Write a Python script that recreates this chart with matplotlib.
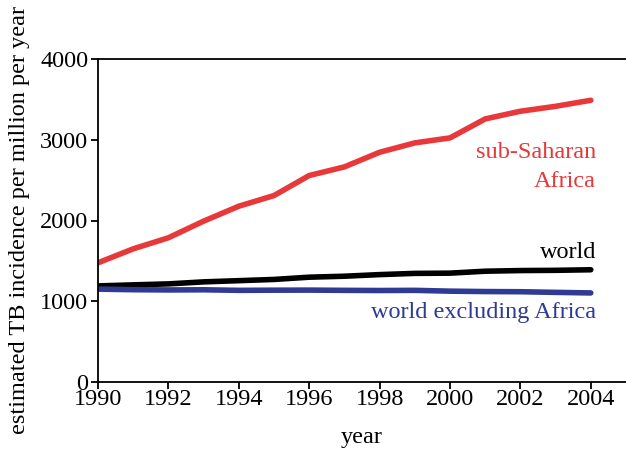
import matplotlib
matplotlib.use("Agg")
import matplotlib.pyplot as plt

# estimated TB incidence per million per year
years = list(range(1990, 2005))
ssa = [1476, 1649, 1786, 1992, 2177, 2309, 2557, 2664, 2845, 2961,
       3023, 3258, 3353, 3414, 3489]
world = [1190, 1203, 1215, 1240, 1255, 1270, 1298, 1310, 1330, 1345,
         1348, 1372, 1380, 1383, 1390]
world_ex_africa = [1150, 1143, 1140, 1142, 1135, 1137, 1138, 1135, 1133,
                   1135, 1125, 1120, 1118, 1110, 1103]
xticks = list(range(1990, 2005, 2))
yticks = [0, 1000, 2000, 3000, 4000]

RED = "#e8383a"
BLUE = "#2e3a94"
FS = 17.5

plt.rcParams['font.family'] = ['Liberation Serif', 'DejaVu Serif']

fig = plt.figure(figsize=(6.26, 4.54), dpi=100)
ax = fig.add_axes([98 / 626, 72 / 454, 528 / 626, 323 / 454])

lw = 4.0
ax.plot(years, ssa, color=RED, linewidth=lw, solid_capstyle='round')
ax.plot(years, world, color="black", linewidth=lw, solid_capstyle='round')
ax.plot(years, world_ex_africa, color=BLUE, linewidth=lw, solid_capstyle='round')

ax.set_xlim(1990, 1990 + 528 / 35.2)
ax.set_ylim(0, 4000)
ax.set_xticks(xticks)
ax.set_yticks(yticks)
ax.spines['right'].set_visible(False)
for s in ['left', 'bottom', 'top']:
    ax.spines[s].set_linewidth(1.3)
ax.tick_params(axis='both', direction='out', length=5, width=1.3,
               labelsize=FS, pad=2)
ax.tick_params(axis='x', pad=0)

ax.set_xlabel("year", fontsize=FS, labelpad=12)
ax.set_ylabel("estimated TB incidence per million per year", fontsize=FS,
              labelpad=7)

xr = 2004.15
ax.text(xr, 2768, "sub-Saharan", color=RED, fontsize=FS,
        ha='right', va='baseline')
ax.text(xr, 2410, "Africa", color=RED, fontsize=FS,
        ha='right', va='baseline')
ax.text(xr, 1535, "world", color="black", fontsize=FS, ha='right',
        va='baseline')
ax.text(xr, 795, "world excluding Africa", color=BLUE, fontsize=FS,
        ha='right', va='baseline')

fig.savefig("out.png", dpi=100)
